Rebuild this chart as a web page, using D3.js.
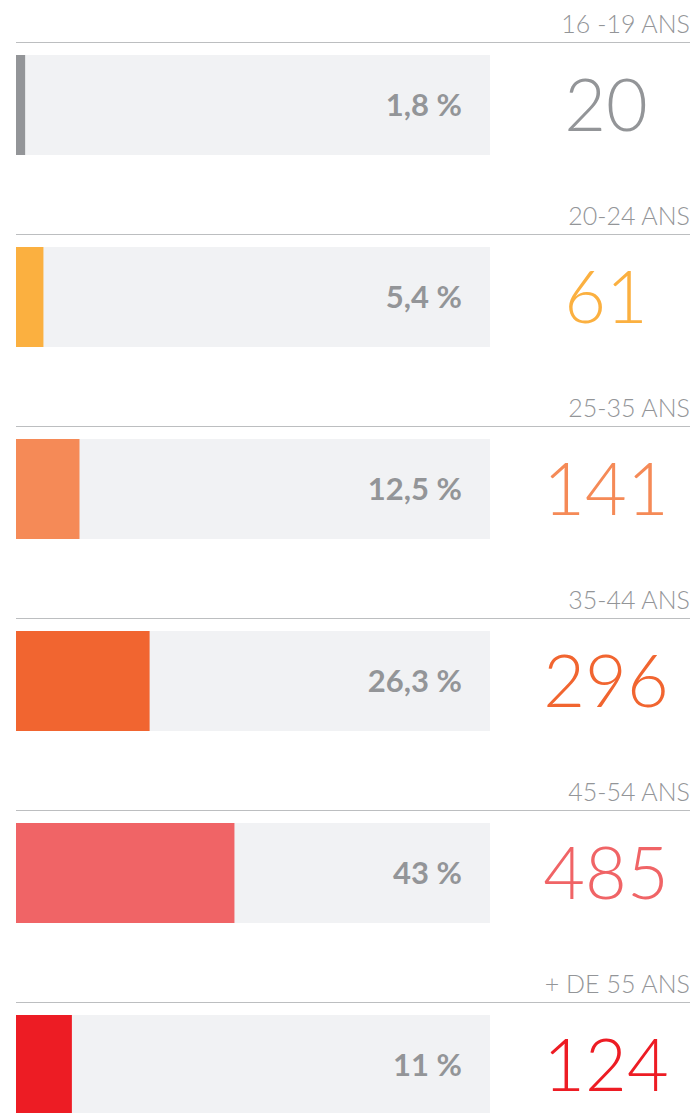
<!DOCTYPE html>
<html>
<head>
<meta charset="utf-8">
<script src="https://cdn.jsdelivr.net/npm/d3@7"></script>
<style>
  html, body { margin: 0; padding: 0; background: #fff; }
  svg { display: block; font-family: Lato, "Open Sans", sans-serif; }
  .age-label { font-weight: 300; fill: #939598; }
  .pct-label { font-weight: 700; fill: #939598; }
  .count-label { font-weight: 300; }
</style>
</head>
<body>
<div id="chart"></div>
<script>
// age groups, share of total (%) and counts
const ageGroups = ["16 -19 ANS", "20-24 ANS", "25-35 ANS", "35-44 ANS", "45-54 ANS", "+ DE 55 ANS"];
const percentages = [1.8, 5.4, 12.5, 26.3, 43, 11];
const pctLabels = ["1,8 %", "5,4 %", "12,5 %", "26,3 %", "43 %", "11 %"];
const counts = [20, 61, 141, 296, 485, 124];
const colors = ["#939598", "#fbb040", "#f58a57", "#f16530", "#f06466", "#ed1c24"];

const width = 697, height = 1113;

const svg = d3.select("#chart")
  .append("svg")
  .attr("width", width)
  .attr("height", height);

const data = ageGroups.map((g, i) => ({
  group: g, pct: percentages[i], pctLabel: pctLabels[i], count: counts[i], color: colors[i]
}));

// one band per age group, each band starts at its rule line
const y = d3.scaleBand()
  .domain(ageGroups)
  .range([42, 42 + 192 * ageGroups.length]);

// bar length
const x = d3.scaleLinear()
  .domain([0, 100])
  .range([0, 508]);

const barLeft = 16, barRight = 490, barTop = 13, barHeight = 100;

const rows = svg.selectAll(".row")
  .data(data)
  .join("g")
  .attr("class", "row")
  .attr("transform", d => `translate(0,${y(d.group)})`);

rows.append("line")
  .attr("x1", barLeft)
  .attr("x2", 690)
  .attr("y1", 0.5)
  .attr("y2", 0.5)
  .attr("stroke", "#bcbec0")
  .attr("stroke-width", 1.2);

rows.append("text")
  .attr("class", "age-label")
  .attr("x", 690)
  .attr("y", -9)
  .attr("text-anchor", "end")
  .attr("font-size", 25)
  .text(d => d.group);

// background track
rows.append("rect")
  .attr("x", barLeft)
  .attr("y", barTop)
  .attr("width", barRight - barLeft)
  .attr("height", barHeight)
  .attr("fill", "#f1f2f4");

rows.append("rect")
  .attr("x", barLeft)
  .attr("y", barTop)
  .attr("width", d => x(d.pct))
  .attr("height", barHeight)
  .attr("fill", d => d.color);

rows.append("text")
  .attr("class", "pct-label")
  .attr("x", 462)
  .attr("y", barTop + 61)
  .attr("text-anchor", "end")
  .attr("font-size", 31)
  .text(d => d.pctLabel);

rows.append("text")
  .attr("class", "count-label")
  .attr("x", 606)
  .attr("y", barTop + 76)
  .attr("text-anchor", "middle")
  .attr("font-size", 72)
  .attr("fill", d => d.color)
  .text(d => d.count);
</script>
</body>
</html>
